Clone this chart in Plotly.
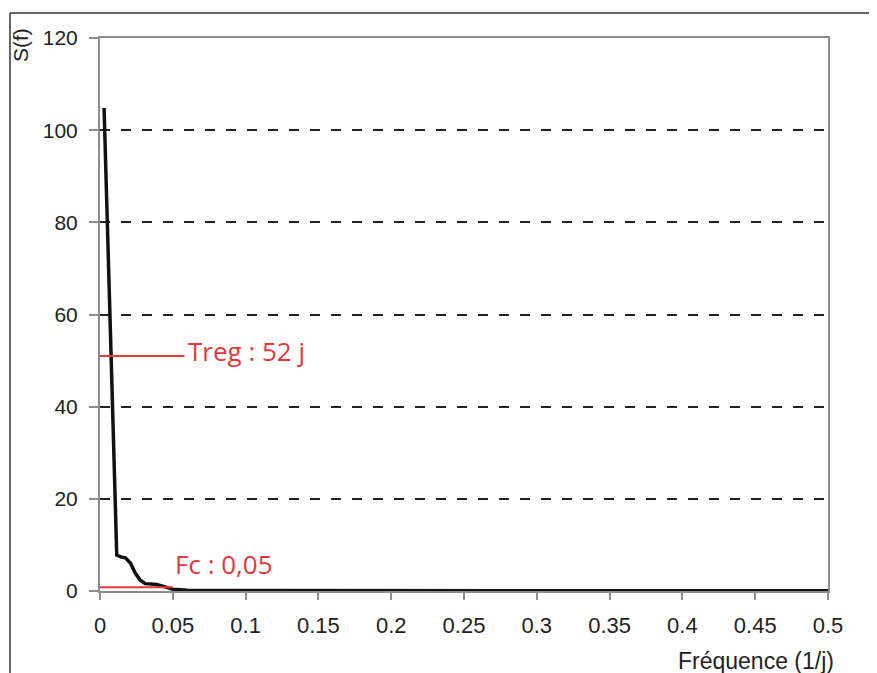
import plotly.graph_objects as go

# Data
freq = [0.0028, 0.0115, 0.0150, 0.0175, 0.0210, 0.0240, 0.0275, 0.0310, 0.0350,
        0.0390, 0.0425, 0.0460, 0.0500, 0.0550, 0.0600, 0.0700, 0.1000, 0.1500,
        0.2000, 0.2500, 0.3000, 0.3500, 0.4000, 0.4500, 0.5000]
spectrum = [104.8, 7.8, 7.3, 7.2, 6.0, 4.0, 2.4, 1.6, 1.5,
            1.4, 1.1, 0.7, 0.4, 0.3, 0.15, 0.1, 0.08, 0.06,
            0.05, 0.05, 0.05, 0.05, 0.05, 0.05, 0.05]

x_ticks = [0, 0.05, 0.1, 0.15, 0.2, 0.25, 0.3, 0.35, 0.4, 0.45, 0.5]
x_ticktext = ["0", "0.05", "0.1", "0.15", "0.2", "0.25", "0.3", "0.35", "0.4", "0.45", "0.5"]
y_ticks = [0, 20, 40, 60, 80, 100, 120]

treg_level = 51
treg_end = 0.058
fc_level = 0.8
fc_freq = 0.05

RED = "#e2393c"
GRAY = "#8c8c8c"
TXT = "#222222"

# page body has an 8px margin: figure is drawn 8px smaller and offset
OFF = 8
W, H = 877 - OFF, 673 - OFF
L, R, T, B = 100 - OFF, 49, 38 - OFF, 82
pw, ph = W - L - R, H - T - B


def px(xp):
    """reference pixel x -> paper coordinate"""
    return (xp - OFF - L) / pw


def py(yp):
    """reference pixel y -> paper coordinate"""
    return (H - B - (yp - OFF)) / ph


fig = go.Figure()
fig.add_trace(go.Scatter(x=freq, y=spectrum, mode="lines",
                         line=dict(color="#111111", width=3.5), showlegend=False,
                         cliponaxis=False))

# red reference lines
fig.add_shape(type="line", xref="x", yref="y", x0=-0.002, x1=treg_end,
              y0=treg_level, y1=treg_level, line=dict(color=RED, width=2))
fig.add_shape(type="line", xref="x", yref="y", x0=0, x1=fc_freq,
              y0=fc_level, y1=fc_level, line=dict(color=RED, width=2))

fig.add_annotation(x=0.0590, y=treg_level + 1, xref="x", yref="y", text="Treg : 52 j",
                   showarrow=False, xanchor="left", yanchor="middle",
                   font=dict(family="Open Sans", size=26, color=RED))
fig.add_annotation(x=0.0500, y=5.8, xref="x", yref="y", text="Fc : 0,05",
                   showarrow=False, xanchor="left", yanchor="middle",
                   font=dict(family="Open Sans", size=26, color=RED))

# axis titles
fig.add_annotation(x=px(836), y=py(661), xref="paper", yref="paper", text="Fréquence (1/j)",
                   showarrow=False, xanchor="right", yanchor="middle",
                   font=dict(family="Liberation Sans, Arial", size=23, color=TXT))
fig.add_annotation(x=px(21), y=py(45), text="S(f)", showarrow=False, textangle=-90,
                   xref="paper", yref="paper", xanchor="center", yanchor="middle",
                   font=dict(family="Liberation Sans, Arial", size=21, color=TXT))

# outer frame lines
fig.add_shape(type="line", xref="paper", yref="paper", x0=px(10), x1=px(880),
              y0=py(13), y1=py(13), line=dict(color="#333333", width=1.5))
fig.add_shape(type="line", xref="paper", yref="paper", x0=px(10), x1=px(10),
              y0=py(13), y1=py(680), line=dict(color="#333333", width=1.5))

fig.update_layout(
    width=W, height=H,
    margin=dict(l=L, r=R, t=T, b=B),
    paper_bgcolor="white", plot_bgcolor="white",
    xaxis=dict(range=[0, 0.5], tickvals=x_ticks, ticktext=x_ticktext,
               showgrid=False, zeroline=False,
               showline=True, linecolor=GRAY, linewidth=2, mirror=True,
               ticks="outside", ticklen=7, tickcolor=GRAY, tickwidth=1.5,
               ticklabelstandoff=7,
               tickfont=dict(family="Liberation Sans, Arial", size=22, color=TXT)),
    yaxis=dict(range=[0, 120], tickvals=y_ticks,
               showgrid=True, gridcolor="#222222", gridwidth=2, griddash="10px,11px",
               zeroline=False,
               showline=True, linecolor=GRAY, linewidth=2, mirror=True,
               ticks="outside", ticklen=9, tickcolor=GRAY, tickwidth=1.5,
               ticklabelstandoff=7,
               tickfont=dict(family="Liberation Sans, Arial", size=21, color=TXT)),
)

fig.write_html("out.html")
